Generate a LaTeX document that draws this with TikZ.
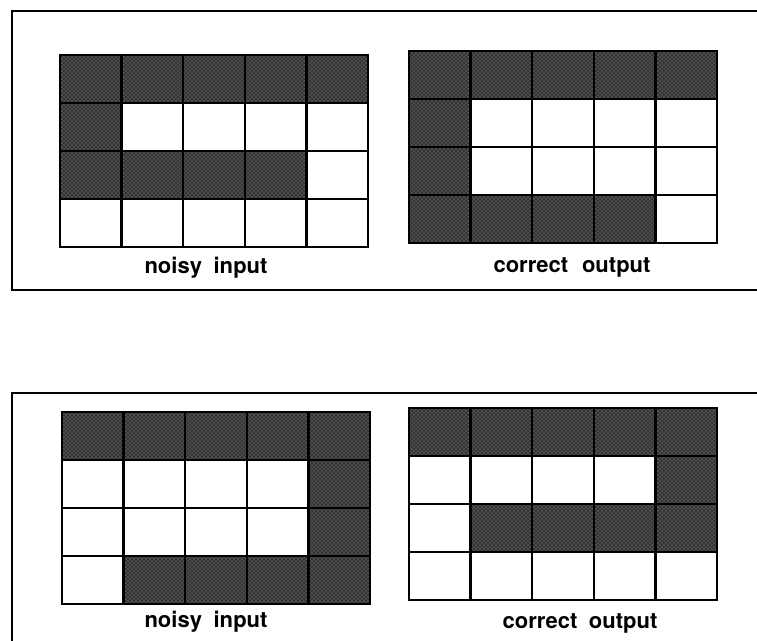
\documentclass[tikz,border=0pt]{standalone}
\usepackage{fontspec}
\setmainfont{TeX Gyre Heros}
\usetikzlibrary{patterns}

\begin{document}
\begin{tikzpicture}[x=0.75pt, y=-0.75pt,
    cell/.style={draw, line width=1.9pt, fill=white, inner sep=0pt,
      minimum width=46.2pt, minimum height=36pt},
    shaded/.style={preaction={fill=black!80}, pattern=crosshatch dots,
      pattern color=black!35},
    caption/.style={font=\fontsize{16.5}{20}\selectfont\bfseries}]
  \useasboundingbox (0,0) rectangle (757,641);
  \fill[white] (0,0) rectangle (757,641);
  % the two panels, open on the right
  \draw[line width=1.6pt] (757,11) -- (12,11) -- (12,290) -- (757,290);
  \draw[line width=1.6pt] (757,393) -- (12,393) -- (12,641);
  % 4x5 grids: name/left/top
  \foreach \g/\gx/\gy in {a/60/55, b/409/51, c/62/412, d/409/408}
    \foreach \r in {0,...,3}
      \foreach \c in {0,...,4}
        \node[cell] (\g-\r-\c) at (\gx+30.8+\c*61.6, \gy+24+\r*48) {};
  % shaded cells: row/column
  \foreach \g/\gx/\gy/\cells in {
      a/60/55/{0/0,0/1,0/2,0/3,0/4,1/0,2/0,2/1,2/2,2/3},
      b/409/51/{0/0,0/1,0/2,0/3,0/4,1/0,2/0,3/0,3/1,3/2,3/3},
      c/62/412/{0/0,0/1,0/2,0/3,0/4,1/4,2/4,3/1,3/2,3/3,3/4},
      d/409/408/{0/0,0/1,0/2,0/3,0/4,1/4,2/1,2/2,2/3,2/4}}
    \foreach \r/\c in \cells
      \node[cell, shaded] (\g-\r-\c) at (\gx+30.8+\c*61.6, \gy+24+\r*48) {};
  \node[caption] (a-lbl) at (206,268) {noisy\hspace{.25em} input};
  \node[caption] (b-lbl) at (572,267) {correct\hspace{.35em} output};
  \node[caption] (c-lbl) at (206,622) {noisy\hspace{.25em} input};
  \node[caption] (d-lbl) at (580,623) {correct\hspace{.25em} output};
\end{tikzpicture}
\end{document}
